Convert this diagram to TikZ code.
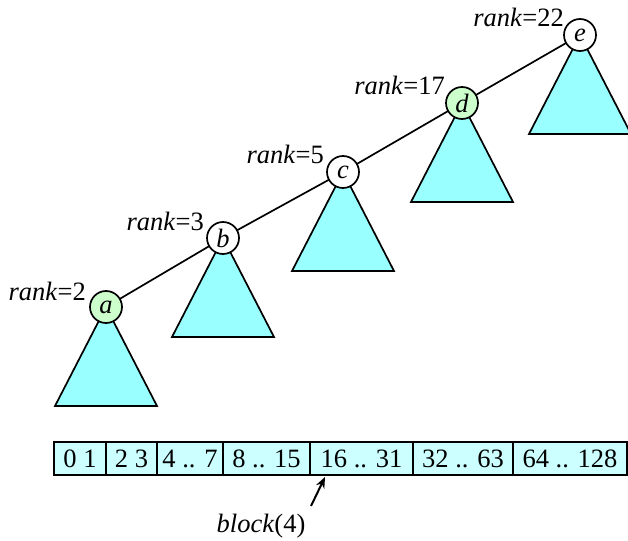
\documentclass[tikz,border=0pt]{standalone}
\usepackage{fontspec}
\setmainfont{Liberation Serif}
\usetikzlibrary{arrows.meta}
\definecolor{trifill}{RGB}{153,255,255}
\definecolor{nodegreen}{RGB}{204,255,204}
\definecolor{cellfill}{RGB}{204,255,255}
\begin{document}
\begin{tikzpicture}[x=1pt,y=-1pt,
  every node/.style={font=\fontsize{26.5}{30}\selectfont},
  tree/.style={draw=black,line width=1.7pt,fill=trifill,line join=miter},
  vtx/.style={circle,draw=black,line width=1.7pt,fill=white,minimum size=32pt,inner sep=0pt},
  green/.style={fill=nodegreen},
  ranklbl/.style={anchor=base east,inner sep=0pt},
  cell/.style={draw=black,line width=1.7pt,fill=cellfill,minimum height=33pt,inner sep=0pt},
  edge/.style={line width=1.7pt}]
\useasboundingbox (0,0) rectangle (628,540);
% subtrees
\foreach \cx/\cy in {106/307,223/238,343/172,462/103,580/35}{
  \draw[tree] (\cx,\cy) -- (\cx-51,\cy+99) -- (\cx+51,\cy+99) -- cycle;
}
% spine
\coordinate (pa) at (106,307);
\coordinate (pb) at (223,238);
\coordinate (pc) at (343,172);
\coordinate (pd) at (462,103);
\coordinate (pe) at (580,35);
\draw[edge] (pa) -- (pb) -- (pc) -- (pd) -- (pe);
% vertices
\node[vtx,green] (a) at (pa) {\textit{a}};
\node[vtx] (b) at (pb) {\textit{b}};
\node[vtx] (c) at (pc) {\textit{c}};
\node[vtx,green] (d) at (pd) {\textit{d}};
\node[vtx] (e) at (pe) {\textit{e}};
% rank labels
\node[ranklbl] (ra) at (86,300) {\textit{rank}=2};
\node[ranklbl] (rb) at (204,230) {\textit{rank}=3};
\node[ranklbl] (rc) at (324,164) {\textit{rank}=5};
\node[ranklbl] (rd) at (445,95) {\textit{rank}=17};
\node[ranklbl] (re) at (564,27) {\textit{rank}=22};
% array
\node[cell,minimum width=52pt] (k0) at (80,458.5) {0 1};
\node[cell,minimum width=51pt] (k1) at (131.5,458.5) {2 3};
\node[cell,minimum width=66pt] (k2) at (190,458.5) {4 .. 7};
\node[cell,minimum width=87pt] (k3) at (266.5,458.5) {8 .. 15};
\node[cell,minimum width=103pt] (k4) at (361.5,458.5) {16 .. 31};
\node[cell,minimum width=100pt] (k5) at (463,458.5) {32 .. 63};
\node[cell,minimum width=114pt] (k6) at (570,458.5) {64 .. 128};
% block label and arrow
\node[anchor=base,inner sep=0pt] (blk) at (261,532) {\textit{block}(4)};
\coordinate (tail) at (311,506);
\coordinate (tip) at (325,477);
\draw[line width=2pt,-{Stealth[length=11pt,width=9pt]}] (tail) -- (tip);
\end{tikzpicture}
\end{document}
